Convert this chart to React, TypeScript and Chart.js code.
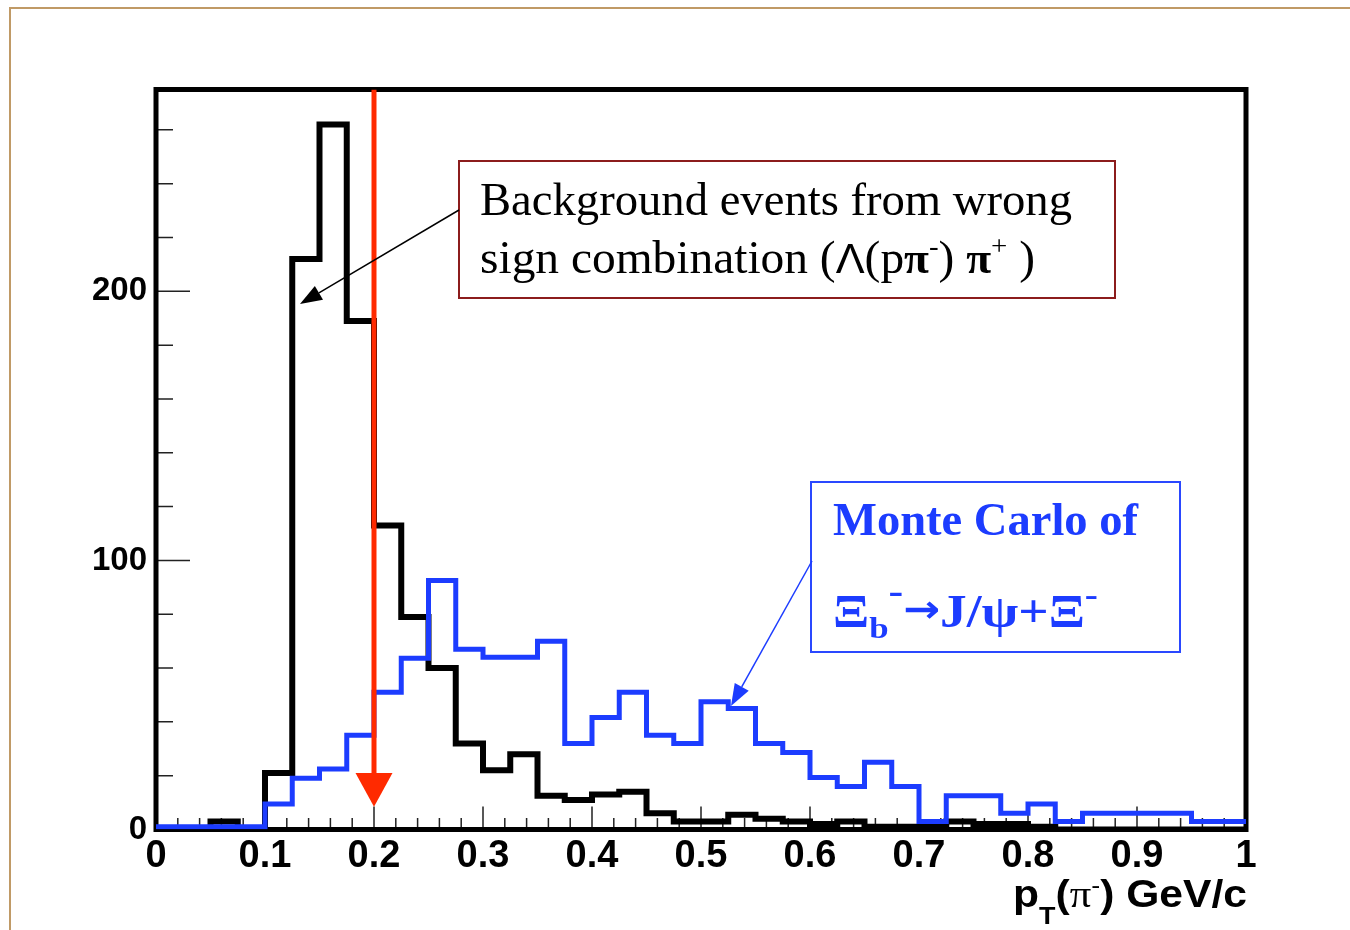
import React, { useEffect, useRef } from "react";
import { Chart, registerables } from "chart.js";

Chart.register(...registerables);

// ---- data ----
const binWidth = 0.025;
// Background events from wrong sign combination (black), 40 bins of 0.025 from 0 to 1
const backgroundCounts = [
  0, 0, 3, 0, 21, 212, 262, 189, 113, 79,
  60, 32, 22, 28, 12.5, 11, 13, 14, 6, 3,
  3, 5.5, 4, 3, 2, 3, 1, 1, 1, 3,
  2, 2, 1, 0, 0, 0, 0, 0, 0, 0,
];
// Monte Carlo of Xi_b -> J/psi + Xi (blue)
const monteCarloCounts = [
  1, 1, 1, 1, 9.5, 19, 22.5, 35, 51, 63.6,
  92.5, 67, 64, 64, 70, 32, 41.6, 51, 35, 32,
  47.5, 45, 32, 28.6, 19.3, 16, 25, 16, 3, 12.5,
  12.5, 6, 9.5, 3, 6, 6, 6, 6, 3, 3,
];
const xTickValues = [0, 0.1, 0.2, 0.3, 0.4, 0.5, 0.6, 0.7, 0.8, 0.9, 1];
const xTickLabels = ["0", "0.1", "0.2", "0.3", "0.4", "0.5", "0.6", "0.7", "0.8", "0.9", "1"];
const yTickValues = [0, 100, 200];
const yTickLabels = ["0", "100", "200"];
const xMin = 0;
const xMax = 1;
const yMin = 0;
const yMax = 275;
const cutValue = 0.2;
const cutArrowTip = 8.5;
const cutArrowBase = 21;

function toSteps(counts: number[]) {
  // one point per bin lower edge, plus the last upper edge; stepped 'before' holds each level over its bin
  const pts = counts.map((c, i) => ({ x: i * binWidth, y: c }));
  pts.push({ x: counts.length * binWidth, y: counts[counts.length - 1] });
  return pts;
}

type Piece = { t: string; font: string; dy?: number };

function piecesWidth(ctx: CanvasRenderingContext2D, pieces: Piece[]) {
  let w = 0;
  for (const p of pieces) {
    ctx.font = p.font;
    w += ctx.measureText(p.t).width;
  }
  return w;
}

function drawPiecesFit(
  ctx: CanvasRenderingContext2D,
  pieces: Piece[],
  x: number,
  baseline: number,
  targetWidth: number,
  color: string
) {
  const w = piecesWidth(ctx, pieces);
  const s = w > 0 ? targetWidth / w : 1;
  ctx.save();
  ctx.translate(x, baseline);
  ctx.scale(s, 1);
  ctx.fillStyle = color;
  ctx.textBaseline = "alphabetic";
  ctx.textAlign = "left";
  let cx = 0;
  for (const p of pieces) {
    ctx.font = p.font;
    ctx.fillText(p.t, cx, p.dy || 0);
    cx += ctx.measureText(p.t).width;
  }
  ctx.restore();
}

function drawArrow(
  ctx: CanvasRenderingContext2D,
  x1: number,
  y1: number,
  x2: number,
  y2: number,
  color: string,
  width: number,
  headLen: number,
  headHalf: number
) {
  const ang = Math.atan2(y2 - y1, x2 - x1);
  const bx = x2 - Math.cos(ang) * headLen;
  const by = y2 - Math.sin(ang) * headLen;
  ctx.save();
  ctx.strokeStyle = color;
  ctx.fillStyle = color;
  ctx.lineWidth = width;
  ctx.beginPath();
  ctx.moveTo(x1, y1);
  ctx.lineTo(bx, by);
  ctx.stroke();
  ctx.beginPath();
  ctx.moveTo(x2, y2);
  ctx.lineTo(bx + Math.sin(ang) * headHalf, by - Math.cos(ang) * headHalf);
  ctx.lineTo(bx - Math.sin(ang) * headHalf, by + Math.cos(ang) * headHalf);
  ctx.closePath();
  ctx.fill();
  ctx.restore();
}

const SERIF = '"Liberation Serif", "Times New Roman", serif';
const SANS = '"Liberation Sans", Arial, Helvetica, sans-serif';
const BLUE = "#1c3cff";
const RED = "#ff2a00";

const overlayPlugin = {
  id: "rootStyleOverlay",
  beforeDatasetsDraw(chart: any) {
    const { ctx, chartArea: a, scales } = chart;
    const xs = scales.x;
    const ys = scales.y;
    ctx.save();
    // inward tick marks
    ctx.strokeStyle = "#222";
    ctx.lineWidth = 1.5;
    ctx.beginPath();
    for (let v = 20; v < yMax; v += 20) {
      const py = ys.getPixelForValue(v);
      const major = v % 100 === 0;
      ctx.moveTo(a.left, py);
      ctx.lineTo(a.left + (major ? 34 : 17), py);
    }
    for (let i = 1; i < 50; i++) {
      const v = i * 0.02;
      const px = xs.getPixelForValue(v);
      const major = i % 5 === 0;
      ctx.moveTo(px, a.bottom);
      ctx.lineTo(px, a.bottom - (major ? 23 : 11.5));
    }
    ctx.stroke();
    // frame
    ctx.strokeStyle = "#000";
    ctx.lineWidth = 5;
    ctx.strokeRect(a.left, a.top, a.right - a.left, a.bottom - a.top);
    ctx.restore();
  },
  afterDatasetsDraw(chart: any) {
    const { ctx, scales } = chart;
    const xs = scales.x;
    const ys = scales.y;
    ctx.save();
    // red cut arrow head
    const cx = xs.getPixelForValue(cutValue);
    const tip = ys.getPixelForValue(cutArrowTip);
    const base = ys.getPixelForValue(cutArrowBase);
    ctx.fillStyle = RED;
    ctx.beginPath();
    ctx.moveTo(cx - 18.5, base);
    ctx.lineTo(cx + 18.5, base);
    ctx.lineTo(cx, tip);
    ctx.closePath();
    ctx.fill();

    // background annotation box
    ctx.fillStyle = "#fff";
    ctx.fillRect(459, 161, 656, 137);
    ctx.strokeStyle = "#8c1c1c";
    ctx.lineWidth = 2;
    ctx.strokeRect(459, 161, 656, 137);
    drawPiecesFit(ctx, [{ t: "Background events from wrong", font: `46px ${SERIF}` }], 480, 215, 592, "#000");
    drawPiecesFit(
      ctx,
      [
        { t: "sign combination (", font: `46px ${SERIF}` },
        { t: "Λ", font: `42px ${SANS}` },
        { t: "(p", font: `46px ${SERIF}` },
        { t: "π", font: `bold 44px ${SERIF}` },
        { t: "-", font: `28px ${SERIF}`, dy: -18 },
        { t: ") ", font: `46px ${SERIF}` },
        { t: "π", font: `bold 44px ${SERIF}` },
        { t: "+", font: `28px ${SERIF}`, dy: -18 },
        { t: " )", font: `46px ${SERIF}` },
      ],
      480,
      273,
      555,
      "#000"
    );
    drawArrow(ctx, 459, 210, 300, 304, "#000", 1.5, 22, 8);

    // Monte Carlo annotation box
    ctx.fillStyle = "#fff";
    ctx.fillRect(811, 482, 369, 170);
    ctx.strokeStyle = "#2a48ff";
    ctx.lineWidth = 2;
    ctx.strokeRect(811, 482, 369, 170);
    drawPiecesFit(ctx, [{ t: "Monte Carlo of", font: `bold 46px ${SERIF}` }], 833, 535, 305, BLUE);
    drawPiecesFit(
      ctx,
      [
        { t: "Ξ", font: `bold 46px ${SERIF}` },
        { t: "b", font: `bold 30px ${SERIF}`, dy: 11 },
        { t: "-", font: `bold 38px ${SERIF}`, dy: -24 },
        { t: "→", font: `bold 38px "DejaVu Sans", sans-serif`, dy: -5 },
        { t: "J/ψ+Ξ", font: `bold 46px ${SERIF}` },
        { t: "-", font: `bold 34px ${SERIF}`, dy: -21 },
      ],
      833,
      627,
      265,
      BLUE
    );
    drawArrow(ctx, 812, 561, 731, 706, BLUE, 1.5, 22, 8);

    // x-axis title
    drawPiecesFit(
      ctx,
      [
        { t: "p", font: `bold 38px ${SANS}` },
        { t: "T", font: `bold 24px ${SANS}`, dy: 17 },
        { t: "(", font: `bold 38px ${SANS}` },
        { t: "π", font: `38px ${SERIF}` },
        { t: "-", font: `24px ${SANS}`, dy: -14 },
        { t: ")", font: `bold 38px ${SANS}` },
        { t: " GeV/c", font: `bold 38px ${SANS}` },
      ],
      1013,
      907,
      234,
      "#000"
    );

    // slide border
    ctx.strokeStyle = "#c09a66";
    ctx.lineWidth = 2;
    ctx.beginPath();
    ctx.moveTo(10, 930);
    ctx.lineTo(10, 8);
    ctx.lineTo(1350, 8);
    ctx.stroke();
    ctx.restore();
  },
};

export default function App() {
  const canvasRef = useRef<HTMLCanvasElement | null>(null);

  useEffect(() => {
    const canvas = canvasRef.current;
    if (!canvas) return;
    const chart = new Chart(canvas, {
      type: "line",
      data: {
        datasets: [
          {
            label: "cut",
            data: [
              { x: cutValue, y: yMax },
              { x: cutValue, y: cutArrowBase },
            ],
            borderColor: RED,
            borderWidth: 5,
            pointRadius: 0,
            fill: false,
          },
          {
            label: "Monte Carlo",
            data: toSteps(monteCarloCounts),
            stepped: "before",
            borderColor: BLUE,
            borderWidth: 5,
            borderJoinStyle: "miter",
            borderCapStyle: "butt",
            pointRadius: 0,
            fill: false,
          },
          {
            label: "Background",
            data: toSteps(backgroundCounts),
            stepped: "before",
            borderColor: "#000",
            borderWidth: 6,
            borderJoinStyle: "miter",
            borderCapStyle: "butt",
            pointRadius: 0,
            fill: false,
          },
        ],
      } as any,
      options: {
        responsive: false,
        animation: false,
        devicePixelRatio: 1,
        layout: { padding: { top: 89.5, right: 104, left: 0, bottom: 0 } },
        plugins: { legend: { display: false }, tooltip: { enabled: false } },
        events: [],
        scales: {
          x: {
            type: "linear",
            min: xMin,
            max: xMax,
            grid: { display: false, drawTicks: false },
            border: { display: false },
            afterBuildTicks: (s: any) => {
              s.ticks = xTickValues.map((v) => ({ value: v }));
            },
            afterFit: (s: any) => {
              s.height = 100.5;
            },
            ticks: {
              autoSkip: false,
              maxRotation: 0,
              minRotation: 0,
              padding: 4,
              color: "#000",
              font: { family: SANS, weight: "bold", size: 38 },
              callback: (_v: any, i: number) => xTickLabels[i],
            },
          },
          y: {
            type: "linear",
            min: yMin,
            max: yMax,
            grid: { display: false, drawTicks: false },
            border: { display: false },
            afterBuildTicks: (s: any) => {
              s.ticks = yTickValues.map((v) => ({ value: v }));
            },
            afterFit: (s: any) => {
              s.width = 156;
            },
            ticks: {
              autoSkip: false,
              padding: 9,
              color: "#000",
              font: { family: SANS, weight: "bold", size: 33 },
              callback: (_v: any, i: number) => yTickLabels[i],
            },
          },
        },
      } as any,
      plugins: [overlayPlugin],
    });
    return () => chart.destroy();
  }, []);

  return (
    <div style={{ position: "fixed", left: 0, top: 0, width: 1350, height: 930, background: "#fff" }}>
      <canvas ref={canvasRef} width={1350} height={930} style={{ display: "block" }} />
    </div>
  );
}
